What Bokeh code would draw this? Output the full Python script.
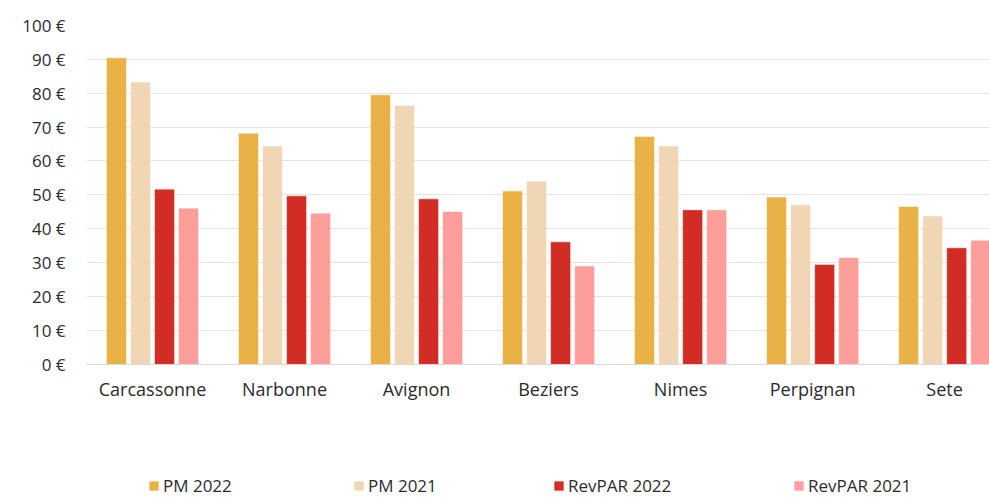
from bokeh.plotting import figure
from bokeh.models import (Range1d, FixedTicker, PrintfTickFormatter, Legend, LegendItem,
                          ColumnDataSource)
from bokeh.transform import dodge
from bokeh.embed import file_html
from bokeh.resources import INLINE

cities = ["Carcassonne", "Narbonne", "Avignon", "Beziers", "Nimes", "Perpignan", "Sete"]
pm_2022 = [90.3, 68.0, 79.4, 51.0, 67.1, 49.2, 46.4]
pm_2021 = [83.2, 64.3, 76.2, 53.9, 64.3, 46.9, 43.6]
revpar_2022 = [51.5, 49.6, 48.7, 36.0, 45.4, 29.3, 34.2]
revpar_2021 = [45.9, 44.4, 44.9, 28.8, 45.4, 31.3, 36.4]
series_names = ["PM 2022", "PM 2021", "RevPAR 2022", "RevPAR 2021"]
colors = ["#EAB246", "#F1D6B5", "#D22D24", "#FE9E9A"]
y_ticks = [0, 10, 20, 30, 40, 50, 60, 70, 80, 90, 100]

FONT = "Open Sans"
TXT = "#2b2b2b"

src = ColumnDataSource(dict(
    x=list(range(len(cities))),
    pm22=pm_2022, pm21=pm_2021, rv22=revpar_2022, rv21=revpar_2021,
))

# frame spans from y=25 to the bottom of the canvas; value 0 sits at y~363
p = figure(width=989, height=497, output_backend="svg", toolbar_location=None,
           x_range=Range1d(-0.5, 6.34), y_range=Range1d(-39.4, 100),
           min_border_left=86, min_border_right=0, min_border_top=25,
           min_border_bottom=0)
p.outline_line_color = None
p.background_fill_color = "white"

fields = ["pm22", "pm21", "rv22", "rv21"]
offsets = [-0.273, -0.091, 0.091, 0.273]
renderers = []
for f, off, c in zip(fields, offsets, colors):
    r = p.vbar(x=dodge("x", off), top=f, bottom=0, width=0.144, source=src,
               fill_color=c, line_color=c, line_width=0.5)
    renderers.append(r)

p.xgrid.grid_line_color = None
p.ygrid.grid_line_color = "#e4e4e4"
p.ygrid.grid_line_width = 1
p.yaxis.ticker = FixedTicker(ticks=y_ticks)
p.yaxis.formatter = PrintfTickFormatter(format="%d €")
p.yaxis.axis_line_color = None
p.yaxis.major_tick_line_color = None
p.yaxis.minor_tick_line_color = None
p.yaxis.major_label_standoff = 15
p.yaxis.major_label_text_font = FONT
p.yaxis.major_label_text_font_size = "17px"
p.yaxis.major_label_text_color = TXT

p.xaxis.fixed_location = 0
p.xaxis.ticker = FixedTicker(ticks=list(range(len(cities))))
p.xaxis.major_label_overrides = {i: c for i, c in enumerate(cities)}
p.xaxis.axis_line_color = "#d9d9d9"
p.xaxis.major_tick_line_color = None
p.xaxis.minor_tick_line_color = None
p.xaxis.major_label_standoff = 7
p.xaxis.major_label_text_font = FONT
p.xaxis.major_label_text_font_size = "18px"
p.xaxis.major_label_text_color = TXT

legend_x = [62, 267, 467, 707]
for name, r, lx in zip(series_names, renderers, legend_x):
    lg = Legend(items=[LegendItem(label=name, renderers=[r])],
                location=(lx, 0), orientation="horizontal",
                padding=0, margin=0, spacing=0,
                glyph_width=11, glyph_height=11, label_standoff=4,
                label_text_font=FONT, label_text_font_size="17px",
                label_text_color=TXT, label_height=20,
                border_line_color=None, background_fill_alpha=0)
    p.add_layout(lg, "center")

open("out.html", "w").write(file_html(p, INLINE))
